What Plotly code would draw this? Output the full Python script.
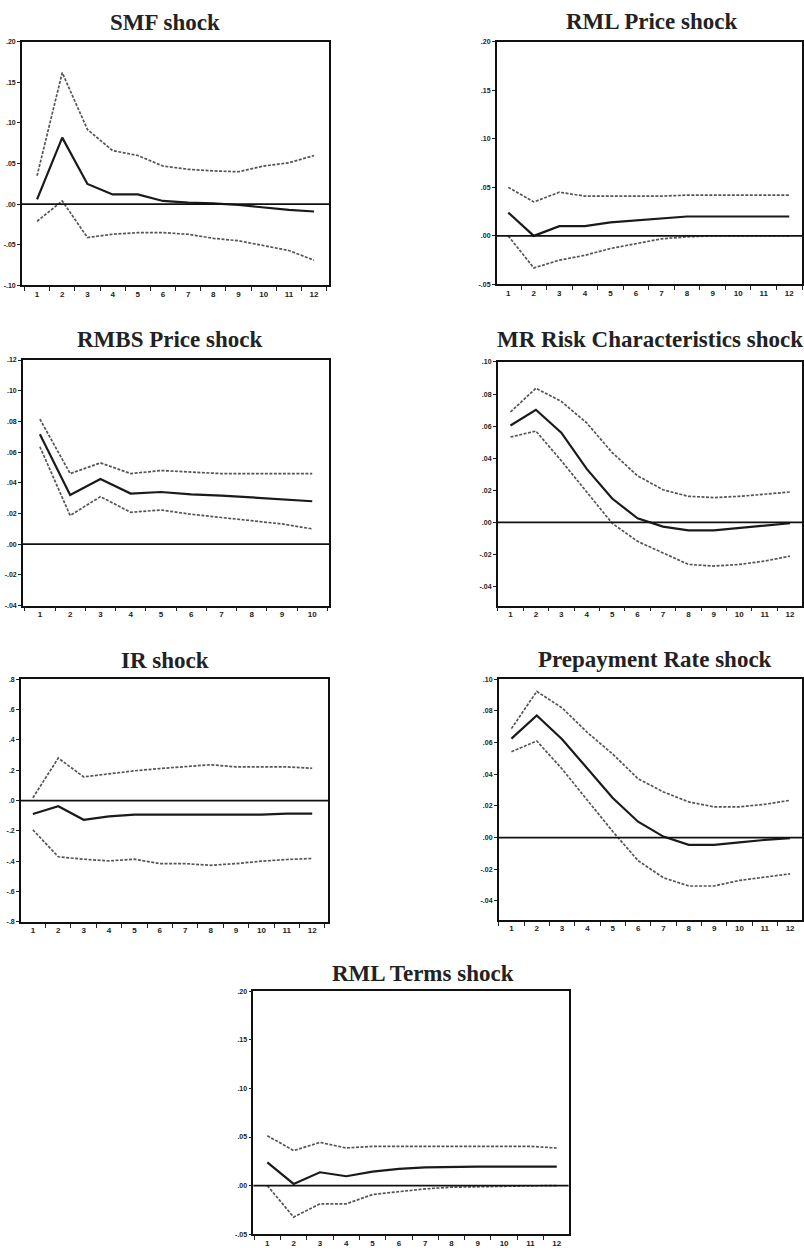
import plotly.graph_objects as go

W, H = 804, 1255

periods12 = list(range(1, 13))
periods10 = list(range(1, 11))

# SMF shock
smf_upper = [0.035, 0.162, 0.092, 0.066, 0.060, 0.047, 0.043, 0.041, 0.040, 0.047, 0.051, 0.060]
smf_mid = [0.006, 0.082, 0.025, 0.012, 0.012, 0.004, 0.002, 0.001, -0.001, -0.004, -0.007, -0.009]
smf_lower = [-0.021, 0.004, -0.041, -0.037, -0.035, -0.035, -0.037, -0.042, -0.045, -0.051, -0.057, -0.069]

# RML Price shock
rmlp_upper = [0.050, 0.035, 0.045, 0.041, 0.041, 0.041, 0.041, 0.042, 0.042, 0.042, 0.042, 0.042]
rmlp_mid = [0.024, 0.000, 0.010, 0.010, 0.014, 0.016, 0.018, 0.020, 0.020, 0.020, 0.020, 0.020]
rmlp_lower = [0.000, -0.033, -0.025, -0.020, -0.013, -0.008, -0.003, -0.001, 0.000, 0.000, 0.000, 0.000]

# RMBS Price shock
rmbs_upper = [0.0815, 0.046, 0.053, 0.046, 0.048, 0.047, 0.046, 0.046, 0.046, 0.046]
rmbs_mid = [0.0716, 0.032, 0.0425, 0.033, 0.034, 0.0325, 0.0317, 0.0306, 0.0293, 0.028]
rmbs_lower = [0.0635, 0.0187, 0.031, 0.0208, 0.0223, 0.0195, 0.0174, 0.0152, 0.0132, 0.010]

# MR Risk Characteristics shock
mrr_upper = [0.0688, 0.0836, 0.0754, 0.062, 0.0435, 0.029, 0.0203, 0.0162, 0.0154, 0.0162, 0.0175, 0.0189]
mrr_mid = [0.0604, 0.0702, 0.0559, 0.0333, 0.0148, 0.0025, -0.0027, -0.0051, -0.0051, -0.0037, -0.0023, -0.0006]
mrr_lower = [0.0532, 0.0569, 0.0384, 0.0189, -0.0006, -0.0119, -0.0191, -0.0263, -0.0273, -0.0263, -0.0242, -0.0211]

# IR shock
ir_upper = [0.018, 0.28, 0.156, 0.178, 0.196, 0.211, 0.222, 0.236, 0.222, 0.222, 0.222, 0.213]
ir_mid = [-0.089, -0.038, -0.127, -0.104, -0.093, -0.093, -0.093, -0.093, -0.093, -0.093, -0.087, -0.087]
ir_lower = [-0.193, -0.371, -0.387, -0.398, -0.387, -0.416, -0.416, -0.427, -0.416, -0.400, -0.389, -0.382]

# Prepayment Rate shock
pre_upper = [0.0688, 0.0923, 0.0819, 0.0663, 0.0527, 0.0371, 0.0288, 0.0225, 0.0194, 0.0194, 0.021, 0.0235]
pre_mid = [0.0625, 0.0771, 0.0621, 0.0433, 0.025, 0.010, 0.0006, -0.0046, -0.0046, -0.0031, -0.0015, -0.0004]
pre_lower = [0.0542, 0.061, 0.0433, 0.0235, 0.0038, -0.0146, -0.0254, -0.0306, -0.0306, -0.0271, -0.025, -0.0229]

# RML Terms shock
rmlt_upper = [0.0514, 0.036, 0.0445, 0.0387, 0.0404, 0.0404, 0.0404, 0.0404, 0.0404, 0.0404, 0.0404, 0.0387]
rmlt_mid = [0.024, 0.0017, 0.0137, 0.0096, 0.0144, 0.0171, 0.0188, 0.0195, 0.0195, 0.0195, 0.0195, 0.0195]
rmlt_lower = [0.000, -0.0325, -0.0188, -0.0188, -0.0092, -0.0062, -0.0034, -0.0017, -0.001, -0.0007, -0.0003, 0.000]

titles = ["SMF shock", "RML Price shock", "RMBS Price shock", "MR Risk Characteristics shock",
          "IR shock", "Prepayment Rate shock", "RML Terms shock"]

ticks_a = [-0.10, -0.05, 0.0, 0.05, 0.10, 0.15, 0.20]
ticks_a_txt = ["-.10", "-.05", ".00", ".05", ".10", ".15", ".20"]
ticks_b = [-0.05, 0.0, 0.05, 0.10, 0.15, 0.20]
ticks_b_txt = ["-.05", ".00", ".05", ".10", ".15", ".20"]
ticks_c = [-0.04, -0.02, 0.0, 0.02, 0.04, 0.06, 0.08, 0.10, 0.12]
ticks_c_txt = ["-.04", "-.02", ".00", ".02", ".04", ".06", ".08", ".10", ".12"]
ticks_d = [-0.04, -0.02, 0.0, 0.02, 0.04, 0.06, 0.08, 0.10]
ticks_d_txt = ["-.04", "-.02", ".00", ".02", ".04", ".06", ".08", ".10"]
ticks_e = [-0.8, -0.6, -0.4, -0.2, 0.0, 0.2, 0.4, 0.6, 0.8]
ticks_e_txt = ["-.8", "-.6", "-.4", "-.2", ".0", ".2", ".4", ".6", ".8"]

panels = [
    dict(x=periods12, up=smf_upper, mid=smf_mid, lo=smf_lower, box=(22, 330, 38, 283),
         xr=[0.4, 12.6], yr=[-0.10, 0.20], tv=ticks_a, tt=ticks_a_txt, title=(165, 19)),
    dict(x=periods12, up=rmlp_upper, mid=rmlp_mid, lo=rmlp_lower, box=(498, 805, 38, 282),
         xr=[0.55, 12.5], yr=[-0.05, 0.20], tv=ticks_b, tt=ticks_b_txt, title=(653, 18)),
    dict(x=periods10, up=rmbs_upper, mid=rmbs_mid, lo=rmbs_lower, box=(23, 330, 358, 605),
         xr=[0.44, 10.56], yr=[-0.04, 0.12], tv=ticks_c, tt=ticks_c_txt, title=(170, 337)),
    dict(x=periods12, up=mrr_upper, mid=mrr_mid, lo=mrr_lower, box=(499, 805, 360, 605),
         xr=[0.5, 12.47], yr=[-0.052, 0.10], tv=ticks_d, tt=ticks_d_txt, title=(652, 337)),
    dict(x=periods12, up=ir_upper, mid=ir_mid, lo=ir_lower, box=(21, 329, 679, 923),
         xr=[0.53, 12.63], yr=[-0.8, 0.8], tv=ticks_e, tt=ticks_e_txt, title=(165, 660)),
    dict(x=periods12, up=pre_upper, mid=pre_mid, lo=pre_lower, box=(500, 805, 679, 921),
         xr=[0.5, 12.47], yr=[-0.052, 0.10], tv=ticks_d, tt=ticks_d_txt, title=(657, 659)),
    dict(x=periods12, up=rmlt_upper, mid=rmlt_mid, lo=rmlt_lower, box=(254, 570, 993, 1237),
         xr=[0.47, 12.45], yr=[-0.05, 0.20], tv=ticks_b, tt=ticks_b_txt, title=(424, 975)),
]

fig = go.Figure()
layout = dict(width=W, height=H, margin=dict(l=0, r=0, t=0, b=0),
              paper_bgcolor="white", plot_bgcolor="white", showlegend=False,
              annotations=[], shapes=[])

band_style = dict(color="#555555", width=1.7, dash="3px,1.5px")
mid_style = dict(color="#1a1a1a", width=2.2)
tick_font_x = dict(family="Liberation Sans", size=8, color="#222", weight="bold")
tick_font_y = dict(family="Liberation Sans", size=7, color="#222", weight="bold")

for i, p in enumerate(panels, start=1):
    xa = "x" if i == 1 else f"x{i}"
    ya = "y" if i == 1 else f"y{i}"
    for vals, style in ((p["up"], band_style), (p["lo"], band_style), (p["mid"], mid_style)):
        fig.add_trace(go.Scatter(x=p["x"], y=vals, mode="lines", line=style,
                                 xaxis=xa, yaxis=ya, hoverinfo="skip"))
    l, r, t, b = p["box"]
    n = len(p["x"])
    layout[f"xaxis{i}"] = dict(
        domain=[l / W, min(r / W, 1.0)], anchor=ya, range=p["xr"],
        tickmode="array", tickvals=p["x"], ticktext=[str(v) for v in p["x"]],
        ticks="", showgrid=False, zeroline=False,
        showline=True, linecolor="#111", linewidth=1.6, mirror=True,
        tickfont=tick_font_x,
        minor=dict(tickmode="array", tickvals=[k + 0.5 for k in range(0, n + 1)],
                   ticks="outside", ticklen=4, tickcolor="#222", tickwidth=1.3, showgrid=False),
        fixedrange=True,
    )
    layout[f"yaxis{i}"] = dict(
        domain=[1 - b / H, 1 - t / H], anchor=xa, range=p["yr"],
        tickmode="array", tickvals=p["tv"], ticktext=p["tt"],
        ticks="outside", ticklen=3, tickcolor="#222", tickwidth=1.3,
        showgrid=False, zeroline=False,
        showline=True, linecolor="#111", linewidth=1.6, mirror=True,
        tickfont=tick_font_y,
        fixedrange=True,
    )
    layout["shapes"].append(dict(type="line", xref=f"{xa} domain", yref=ya,
                                 x0=0, x1=1, y0=0, y1=0,
                                 line=dict(color="#111", width=1.8)))
    tx, ty = p["title"]
    layout["annotations"].append(dict(text=f"<b>{titles[i - 1]}</b>", xref="paper", yref="paper",
                                      x=tx / W, y=1 - ty / H, xanchor="center", yanchor="middle",
                                      showarrow=False,
                                      font=dict(family="Liberation Serif", size=23, color="#222")))

fig.update_layout(**layout)
fig.write_html("out.html")
